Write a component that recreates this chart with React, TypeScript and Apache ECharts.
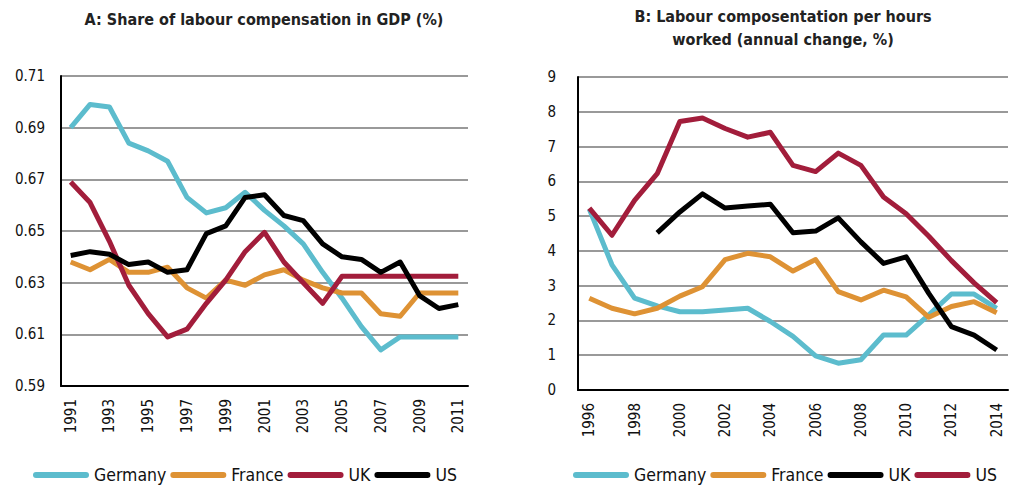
import React, { useEffect, useRef } from "react";
import * as echarts from "echarts";

// Panel A: share of labour compensation in GDP
const yearsA = ["1991","1992","1993","1994","1995","1996","1997","1998","1999","2000","2001","2002","2003","2004","2005","2006","2007","2008","2009","2010","2011"];
const germanyA = [0.690,0.699,0.698,0.684,0.681,0.677,0.663,0.657,0.659,0.665,0.658,0.652,0.645,0.634,0.624,0.613,0.604,0.609,0.609,0.609,0.609];
const franceA = [0.638,0.635,0.639,0.634,0.634,0.636,0.628,0.624,0.631,0.629,0.633,0.635,0.631,0.628,0.626,0.626,0.618,0.617,0.626,0.626,0.626];
const ukA = [0.669,0.661,0.646,0.629,0.618,0.609,0.612,0.622,0.631,0.642,0.6495,0.638,0.630,0.622,0.6325,0.6325,0.6325,0.6325,0.6325,0.6325,0.6325];
const usA = [0.6405,0.642,0.641,0.637,0.638,0.634,0.635,0.649,0.652,0.663,0.664,0.656,0.654,0.645,0.640,0.639,0.634,0.638,0.625,0.620,0.6215];

// Panel B: labour compensation per hours worked, annual change %
const yearsB = ["1996","1997","1998","1999","2000","2001","2002","2003","2004","2005","2006","2007","2008","2009","2010","2011","2012","2013","2014"];
const germanyB = [5.2,3.6,2.64,2.42,2.25,2.25,2.3,2.35,1.97,1.54,0.98,0.77,0.87,1.58,1.58,2.16,2.76,2.76,2.35];
const franceB = [2.64,2.35,2.19,2.35,2.7,2.97,3.75,3.93,3.83,3.42,3.75,2.83,2.59,2.87,2.68,2.09,2.4,2.54,2.22];
const ukB = [null,null,null,4.52,5.12,5.64,5.23,5.29,5.34,4.52,4.57,4.95,4.26,3.64,3.83,2.78,1.82,1.58,1.15];
const usB = [5.23,4.45,5.45,6.22,7.72,7.82,7.52,7.27,7.41,6.46,6.28,6.81,6.46,5.55,5.07,4.42,3.72,3.08,2.51];

const TEAL = "#5cbccd";
const ORANGE = "#de9234";
const RED = "#a21d3b";
const BLACK = "#000000";

const titleA = "A: Share of labour compensation in GDP (%)";
const titleB = "B: Labour composentation per hours\nworked (annual change, %)";

const FONT = "'DejaVu Sans Condensed', 'DejaVu Sans', sans-serif";
const PILL = "path://M3,0 L53,0 A3,3 0 0 1 53,6 L3,6 A3,3 0 0 1 3,0 Z";

export default function App() {
  const ref = useRef<HTMLDivElement>(null);
  useEffect(() => {
    if (!ref.current) return;
    const chart = echarts.init(ref.current, null, { renderer: "svg" });
    const axisLabel = { fontFamily: FONT, fontSize: 15, color: "#111" };
    const lineSeries = (name: string, data: any[], color: string, idx: number) => ({
      type: "line",
      name,
      data,
      xAxisIndex: idx,
      yAxisIndex: idx,
      symbol: "none",
      color,
      lineStyle: { width: 5, color, join: "round" },
      itemStyle: { color },
      connectNulls: false,
    });
    const xAxisBase = (data: string[], idx: number) => ({
      type: "category",
      gridIndex: idx,
      data,
      boundaryGap: true,
      axisLine: { lineStyle: { color: "#000", width: 2 } },
      axisTick: { show: false },
      axisLabel: { ...axisLabel, rotate: 90, interval: 1, margin: 13 },
    });
    const legendBase = {
      icon: PILL,
      itemWidth: 56,
      itemHeight: 6,
      itemGap: 4,
      top: 466,
      padding: 0,
      textStyle: { fontFamily: FONT, fontSize: 17.5, color: "#111", padding: [0, 0, 0, 0] },
      itemStyle: { borderWidth: 0 },
    };
    chart.setOption({
      animation: false,
      backgroundColor: "#fff",
      graphic: [
        {
          type: "text",
          x: 264,
          y: 19,
          style: { text: titleA, font: `bold 16px ${FONT}`, fill: "#222", align: "center", verticalAlign: "middle" },
        },
        {
          type: "text",
          x: 783,
          y: 28,
          style: { text: titleB, font: `bold 16px ${FONT}`, fill: "#222", align: "center", verticalAlign: "middle", lineHeight: 23 },
        },
      ],
      grid: [
        { left: 61, top: 76, width: 407, height: 310 },
        { left: 578, top: 77, width: 430, height: 313 },
      ],
      xAxis: [xAxisBase(yearsA, 0), xAxisBase(yearsB, 1)],
      yAxis: [
        {
          type: "value",
          gridIndex: 0,
          min: 0.59,
          max: 0.71,
          interval: 0.02,
          axisLine: { show: true, lineStyle: { color: "#000", width: 2 } },
          axisTick: { show: false },
          splitLine: { lineStyle: { color: "#999", width: 2 } },
          axisLabel: { ...axisLabel, margin: 16, formatter: (v: number) => v.toFixed(2) },
        },
        {
          type: "value",
          gridIndex: 1,
          min: 0,
          max: 9,
          interval: 1,
          axisLine: { show: true, lineStyle: { color: "#000", width: 2 } },
          axisTick: { show: false },
          splitLine: { lineStyle: { color: "#999", width: 2 } },
          axisLabel: { ...axisLabel, margin: 22 },
        },
      ],
      legend: [
        { ...legendBase, left: 33, data: ["Germany", "France", "UK", "US"] },
        {
          ...legendBase,
          left: 573,
          data: ["Germany (B)", "France (B)", "UK (B)", "US (B)"],
          formatter: (n: string) => n.replace(" (B)", ""),
        },
      ],
      series: [
        lineSeries("Germany", germanyA, TEAL, 0),
        lineSeries("France", franceA, ORANGE, 0),
        lineSeries("UK", ukA, RED, 0),
        lineSeries("US", usA, BLACK, 0),
        lineSeries("Germany (B)", germanyB, TEAL, 1),
        lineSeries("France (B)", franceB, ORANGE, 1),
        lineSeries("UK (B)", ukB, BLACK, 1),
        lineSeries("US (B)", usB, RED, 1),
      ],
    });
    return () => chart.dispose();
  }, []);
  return <div ref={ref} style={{ position: "fixed", left: 0, top: 0, width: 1015, height: 489 }} />;
}
